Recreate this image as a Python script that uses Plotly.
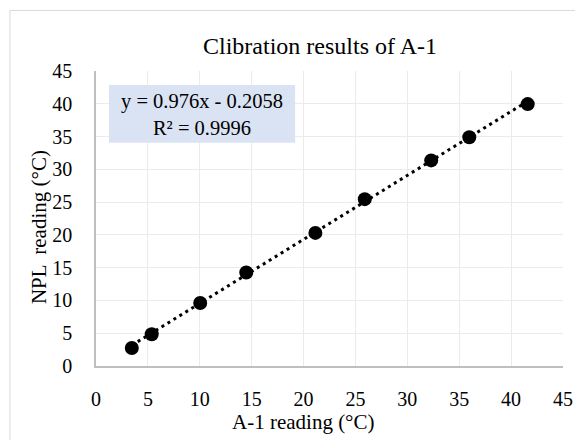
import numpy as np
import plotly.graph_objects as go

# Data
a1_reading = [3.45, 5.37, 10.04, 14.48, 21.14, 25.9, 32.3, 35.97, 41.6]
npl_reading = [2.75, 4.84, 9.62, 14.26, 20.3, 25.45, 31.36, 34.9, 39.95]
slope = 0.976
intercept = -0.2058
r_squared = 0.9996
tick_vals = [0, 5, 10, 15, 20, 25, 30, 35, 40, 45]

title_text = "Clibration results of A-1"
x_title = "A-1 reading (°C)"
y_title = "NPL  reading (°C)"

FONT = "Liberation Serif, Times New Roman, serif"

# plot area in pixels (for placing annotations)
L, R, T, B = 96, 562.7, 71, 365.7
def px(x):
    return (x - L) / (R - L)
def py(y):
    return (B - y) / (B - T)

x_fit = np.array([min(a1_reading), max(a1_reading)])
y_fit = slope * x_fit + intercept

fig = go.Figure()
fig.add_trace(go.Scatter(
    x=x_fit, y=y_fit, mode="lines",
    line=dict(color="black", width=3, dash="3px,4px"),
    hoverinfo="skip", showlegend=False,
))
fig.add_trace(go.Scatter(
    x=a1_reading, y=npl_reading, mode="markers",
    marker=dict(color="black", size=14),
    showlegend=False,
))

# Outer chart border (top and left visible)
fig.add_shape(type="rect", xref="paper", yref="paper",
              x0=px(10), x1=px(600), y0=py(460), y1=py(10.5),
              line=dict(color="#D9D9D9", width=1), layer="below")

# Equation box
fig.add_shape(type="rect", xref="paper", yref="paper",
              x0=px(109), x1=px(295), y0=py(142.7), y1=py(85),
              fillcolor="#DAE3F3", line=dict(width=0), layer="above")

def ann(x, y, text, size, angle=0):
    fig.add_annotation(xref="paper", yref="paper", x=px(x), y=py(y),
                       xanchor="center", yanchor="middle",
                       text=text, showarrow=False, textangle=angle,
                       font=dict(family=FONT, size=size, color="black"))

ann(202, 114, f"y = {slope}x - {abs(intercept)}<br>R² = {r_squared}", 20.5)
ann(320, 46, title_text, 24)
ann(303, 422, x_title, 21)
ann(39, 227, y_title, 21, angle=-90)

fig.update_layout(
    width=575, height=440,
    margin=dict(l=L, r=575 - R, t=T, b=440 - B),
    paper_bgcolor="white", plot_bgcolor="white",
    font=dict(family=FONT, size=20, color="black"),
    xaxis=dict(range=[0, 45], tickvals=tick_vals, showgrid=True,
               gridcolor="#EBEBEB", gridwidth=1, showline=True,
               linecolor="#BFBFBF", linewidth=1.5, zeroline=False,
               ticks="", ticklabelstandoff=14, automargin=False),
    yaxis=dict(range=[0, 45], tickvals=tick_vals, showgrid=True,
               gridcolor="#EBEBEB", gridwidth=1, showline=True,
               linecolor="#BFBFBF", linewidth=1.5, zeroline=False,
               ticks="", ticklabelstandoff=18, automargin=False),
)

fig.write_html("out.html",
               config={"displayModeBar": False},
               post_script="document.body.style.margin='0';"
                           "document.body.style.overflow='hidden';")
